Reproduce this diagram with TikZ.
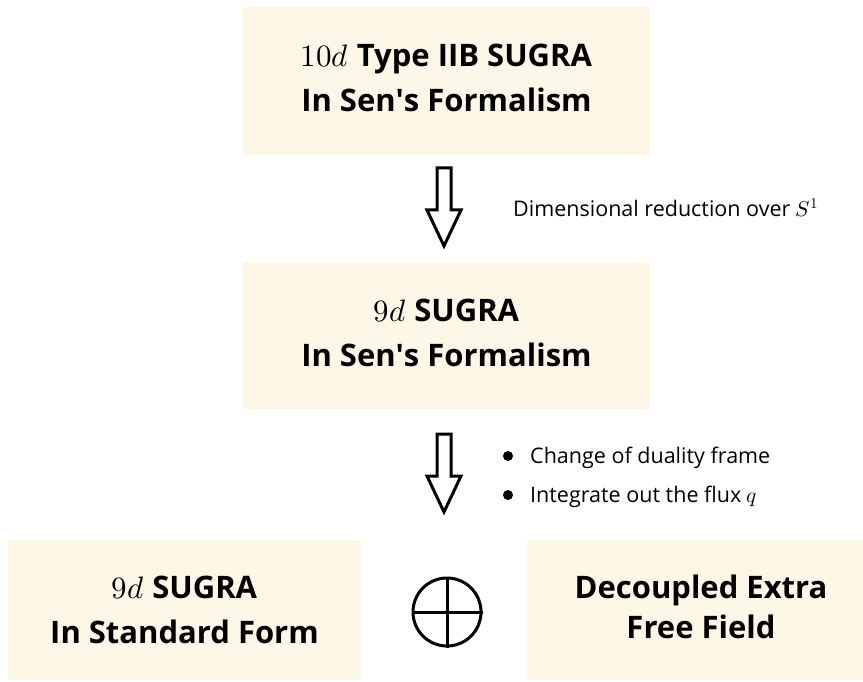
\documentclass[tikz,border=0pt]{standalone}
\usepackage{amsmath}
\usepackage{fontspec}
\usepackage{unicode-math}
\setmainfont{Open Sans}
\setmathfont{Latin Modern Math}
\usepackage{xcolor}
\usetikzlibrary{positioning}
\definecolor{boxcream}{RGB}{253,247,231}
\tikzset{
    sugrabox/.style={fill=boxcream,draw=none,align=center,inner sep=0pt,
        font=\fontsize{31}{45}\selectfont\bfseries},
    tightbox/.style={sugrabox,font=\fontsize{31}{40}\selectfont\bfseries},
    notetext/.style={anchor=west,inner sep=0pt,font=\fontsize{21.5}{26}\selectfont},
    bulletdot/.style={circle,fill=black,inner sep=0pt,minimum size=10pt},
}
% hollow block arrow pointing down
\newcommand{\downblock}[3]{%
    \draw[line width=3pt,line join=miter] (#1-7,#2) -- (#1+7,#2) -- (#1+7,#2+42)
        -- (#1+17,#2+42) -- (#1,#3) -- (#1-17,#2+42) -- (#1-7,#2+42) -- cycle;}
\newcommand{\lowstrut}{\rule[-6pt]{0pt}{0pt}}

\begin{document}
\begin{tikzpicture}[x=1pt,y=-1pt]
    \useasboundingbox (0,0) rectangle (863,682);
    % boxes
    \node[sugrabox,minimum width=407,minimum height=148] (ten) at (446.5,81)
        {$10d$ Type IIB SUGRA\\In Sen\textquotesingle s Formalism\lowstrut};
    \node[sugrabox,minimum width=407,minimum height=147] (nine) at (446.5,335.5)
        {$9d$ SUGRA\\In Sen\textquotesingle s Formalism\lowstrut};
    \node[sugrabox,minimum width=353,minimum height=140] (std) at (184.5,610)
        {$9d$ SUGRA\\In Standard Form};
    \node[tightbox,minimum width=348,minimum height=140] (free) at (701,610)
        {Decoupled Extra\\Free Field\lowstrut};
    % arrows
    \downblock{444}{168}{246}
    \downblock{444}{434}{512}
    \node[notetext] (dimred) at (513,208) {Dimensional reduction over $S^1$};
    \node[notetext] (dual) at (530,458) {Change of duality frame};
    \node[notetext] (flux) at (530,497) {Integrate out the flux $q$};
    \node[bulletdot] at (508,456) {};
    \node[bulletdot] at (508,495) {};
    % direct sum
    \node[circle,draw,line width=3pt,minimum size=68,inner sep=0pt] (oplus) at (447,612) {};
    \draw[line width=3pt] (oplus.north) -- (oplus.south);
    \draw[line width=3pt] (oplus.west) -- (oplus.east);
\end{tikzpicture}
\end{document}
